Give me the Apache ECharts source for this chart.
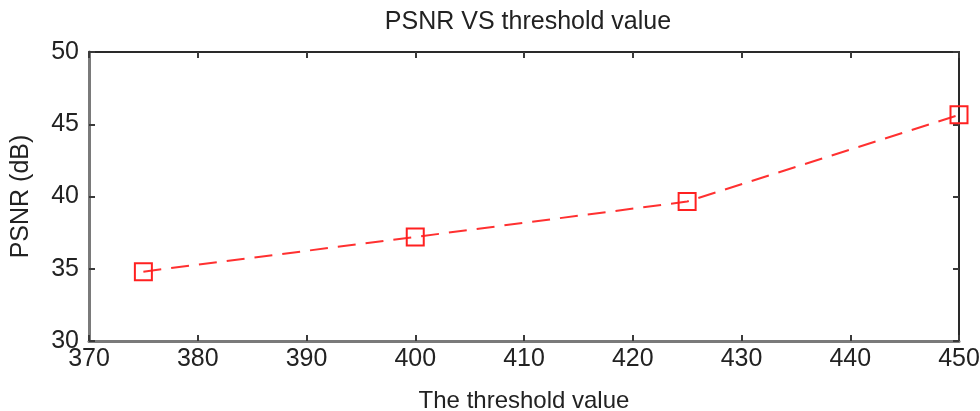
<!DOCTYPE html>
<html>
<head>
<meta charset="utf-8">
<script src="https://cdn.jsdelivr.net/npm/echarts@6/dist/echarts.min.js"></script>
<style>
  html, body { margin: 0; padding: 0; background: #fff; }
  #main { width: 980px; height: 411px; }
</style>
</head>
<body>
<div id="main"></div>
<script>
// 阈值 / PSNR
var thresholds = [375, 400, 425, 450];
var psnr = [34.8, 37.2, 39.65, 45.65];

var font = "'Liberation Sans', Arial, sans-serif";
var chart = echarts.init(document.getElementById('main'));

var lineLB = { show: true, lineStyle: { color: '#7a7a7a', width: 3 } };
var lineTR = { show: true, lineStyle: { color: '#2a2a2a', width: 2 } };
var tick = { show: true, inside: true, length: 6, lineStyle: { color: '#3a3a3a', width: 2 } };

chart.setOption({
  animation: false,
  title: {
    text: 'PSNR VS threshold value',
    left: 523, top: 5, textAlign: 'center',
    textStyle: { fontFamily: font, fontSize: 25, fontWeight: 'normal', color: '#222' }
  },
  grid: { left: 89, right: 21, top: 52, bottom: 70, outerBoundsMode: 'none' },
  xAxis: [{
    type: 'value', min: 370, max: 450, interval: 10,
    name: 'The threshold value', nameLocation: 'middle', nameGap: 48,
    nameTextStyle: { fontFamily: font, fontSize: 24, color: '#222' },
    axisLine: lineLB, axisTick: tick, splitLine: { show: false },
    axisLabel: { fontFamily: font, fontSize: 25, color: '#222', margin: 6 }
  }, {
    type: 'value', position: 'top', min: 370, max: 450, interval: 10,
    axisLine: lineTR, axisTick: tick, splitLine: { show: false },
    axisLabel: { show: false }
  }],
  yAxis: [{
    type: 'value', min: 30, max: 50, interval: 5,
    name: 'PSNR (dB)', nameLocation: 'middle', nameGap: 55,
    nameTextStyle: { fontFamily: font, fontSize: 25, color: '#222' },
    axisLine: lineLB, axisTick: tick, splitLine: { show: false },
    axisLabel: { fontFamily: font, fontSize: 25, color: '#222', margin: 10 }
  }, {
    type: 'value', position: 'right', min: 30, max: 50, interval: 5,
    axisLine: lineTR, axisTick: tick, splitLine: { show: false },
    axisLabel: { show: false }
  }],
  series: [{
    type: 'line',
    data: thresholds.map(function (t, i) { return [t, psnr[i]]; }),
    symbol: 'rect', symbolSize: 17,
    itemStyle: { color: 'rgba(255,255,255,0)', borderColor: '#ff2020', borderWidth: 2 },
    lineStyle: { color: '#ff3030', width: 2, type: [18, 10] },
    smooth: false
  }]
});
</script>
</body>
</html>
